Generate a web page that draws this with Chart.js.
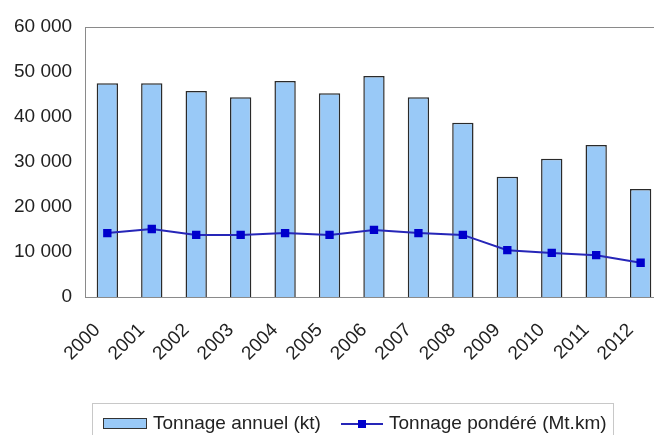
<!DOCTYPE html>
<html>
<head>
<meta charset="utf-8">
<script src="https://cdn.jsdelivr.net/npm/chart.js@4/dist/chart.umd.min.js"></script>
<style>
    body { margin: 0; background: #fff; overflow: hidden; }
    #wrap { position: relative; width: 679px; height: 435px; }
    .legend {
        position: absolute; left: 92px; top: 403px; width: 522px; height: 40px;
        border: 1px solid #c8c8c8; box-sizing: border-box;
        font-family: "Liberation Sans", Arial, sans-serif; font-size: 19px; color: #222;
    }
    .legend .item { position: absolute; top: 8px; line-height: 22px; white-space: nowrap; }
    .sw-bar { display: inline-block; width: 42px; height: 9px; background: #99c9f7; border: 1px solid #333; vertical-align: middle; margin-right: 6px; }
    .sw-line { display: inline-block; position: relative; width: 42px; height: 9px; vertical-align: middle; margin-right: 6px; }
    .sw-line::before { content: ""; position: absolute; left: 0; right: 0; top: 4px; height: 2px; background: #2626b8; }
    .sw-line::after { content: ""; position: absolute; left: 17px; top: 1px; width: 8px; height: 8px; background: #0000cc; }
</style>
</head>
<body>
<div id="wrap">
    <canvas id="chart" width="679" height="435"></canvas>
    <div class="legend">
        <span class="item" style="left: 10px"><span class="sw-bar"></span>Tonnage annuel (kt)</span>
        <span class="item" style="left: 248px"><span class="sw-line"></span>Tonnage pondéré (Mt.km)</span>
    </div>
</div>
<script>
const years = ["2000", "2001", "2002", "2003", "2004", "2005", "2006", "2007", "2008", "2009", "2010", "2011", "2012"];
const tonnageAnnuel = [47500, 47500, 45800, 44400, 48000, 45300, 49100, 44400, 38700, 26700, 30700, 33800, 24000];
const tonnagePondere = [14200, 15100, 13800, 13800, 14200, 13800, 14900, 14200, 13800, 10400, 9800, 9300, 7600];
const yMax = 60000;
const yStep = 10000;

// frame around the plot area, like the original
const plotFrame = {
    id: "plotFrame",
    afterDraw(chart) {
        const { ctx, chartArea: a } = chart;
        ctx.save();
        ctx.strokeStyle = "#8a8a8a";
        ctx.lineWidth = 1;
        ctx.strokeRect(Math.round(a.left) + 0.5, Math.round(a.top) + 0.5, a.right - a.left, a.bottom - a.top);
        ctx.restore();
    }
};

function fmt(v) {
    return String(v).replace(/\B(?=(\d{3})+(?!\d))/g, " ");
}

Chart.defaults.font.family = '"Liberation Sans", Arial, sans-serif';
Chart.defaults.color = "#222";

new Chart(document.getElementById("chart"), {
    data: {
        labels: years,
        datasets: [
            {
                type: "line",
                label: "Tonnage pondéré (Mt.km)",
                data: tonnagePondere,
                borderColor: "#2626b8",
                borderWidth: 2,
                pointStyle: "rect",
                pointRadius: 4.5,
                pointBackgroundColor: "#0000cc",
                pointBorderColor: "#0000cc",
                tension: 0,
                order: 0,
            },
            {
                type: "bar",
                label: "Tonnage annuel (kt)",
                data: tonnageAnnuel,
                backgroundColor: "#99c9f7",
                borderColor: "#2a2a2a",
                borderWidth: 1.5,
                barPercentage: 0.48,
                categoryPercentage: 1,
                order: 1,
            },
        ],
    },
    options: {
        responsive: false,
        animation: false,
        layout: { padding: { left: 1, top: 27, right: 0, bottom: 48 } },
        plugins: { legend: { display: false }, tooltip: { enabled: false } },
        scales: {
            x: {
                grid: { display: false, drawTicks: false },
                border: { display: false },
                ticks: { font: { size: 19 }, maxRotation: 45, minRotation: 45, padding: 22, labelOffset: -10 },
            },
            y: {
                min: 0,
                max: yMax,
                grid: { display: false, drawTicks: false },
                border: { display: false },
                ticks: { stepSize: yStep, font: { size: 19 }, padding: 13, callback: (v) => fmt(v) },
            },
        },
    },
    plugins: [plotFrame],
});
</script>
</body>
</html>
